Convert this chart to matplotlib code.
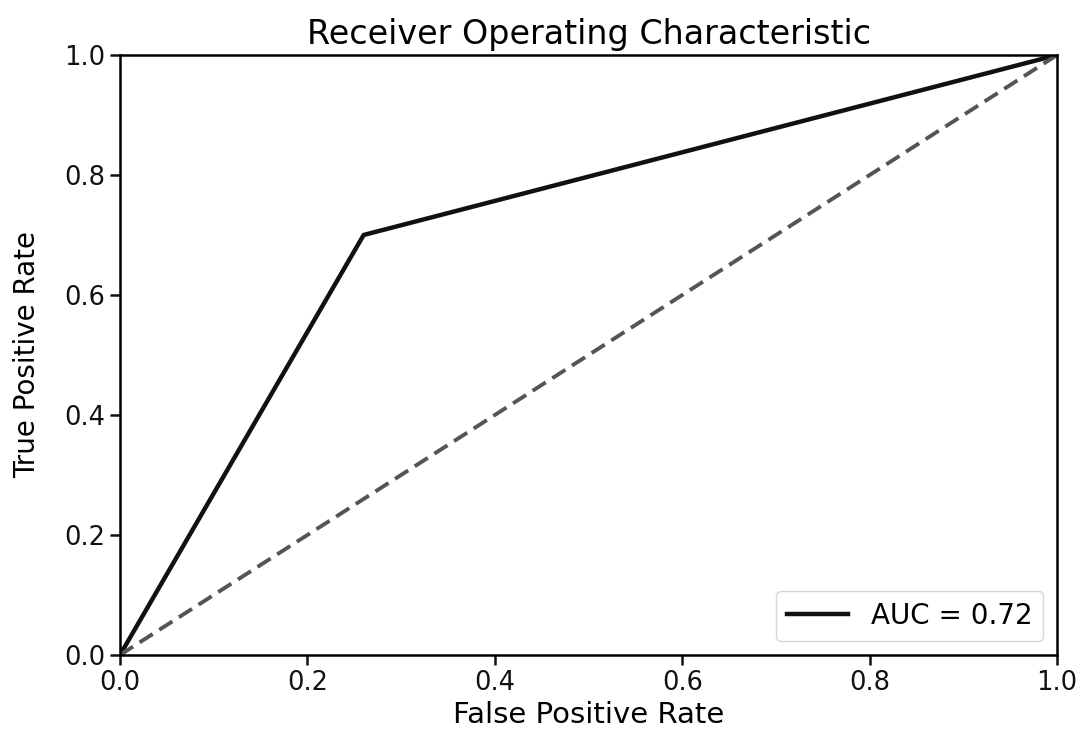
import matplotlib
matplotlib.use('Agg')
import matplotlib.pyplot as plt

fpr = [0.0, 0.26, 1.0]
tpr = [0.0, 0.70, 1.0]
diag = [0.0, 1.0]
auc_label = 'AUC = 0.72'

fig = plt.figure(figsize=(10.76, 7.38), dpi=100)
ax = fig.add_axes([0.1115, 0.1125, 0.871, 0.813])

ax.plot(fpr, tpr, color='#111111', linewidth=3.2, label=auc_label)
ax.plot(diag, diag, color='#555555', linestyle='--', linewidth=2.8, dashes=(4, 2))

ax.set_xlim(0, 1)
ax.set_ylim(0, 1)
ax.set_title('Receiver Operating Characteristic', fontsize=24, pad=8)
ax.set_xlabel('False Positive Rate', fontsize=21, labelpad=4)
ax.set_ylabel('True Positive Rate', fontsize=20, labelpad=17)
ax.tick_params(labelsize=18.5, width=1.8, length=7, colors='#111111')
for s in ax.spines.values():
    s.set_linewidth(1.8)

leg = ax.legend(loc='lower right', fontsize=20, handlelength=2.2)
leg.get_frame().set_edgecolor('#cccccc')

fig.savefig('out.png', dpi=100)
